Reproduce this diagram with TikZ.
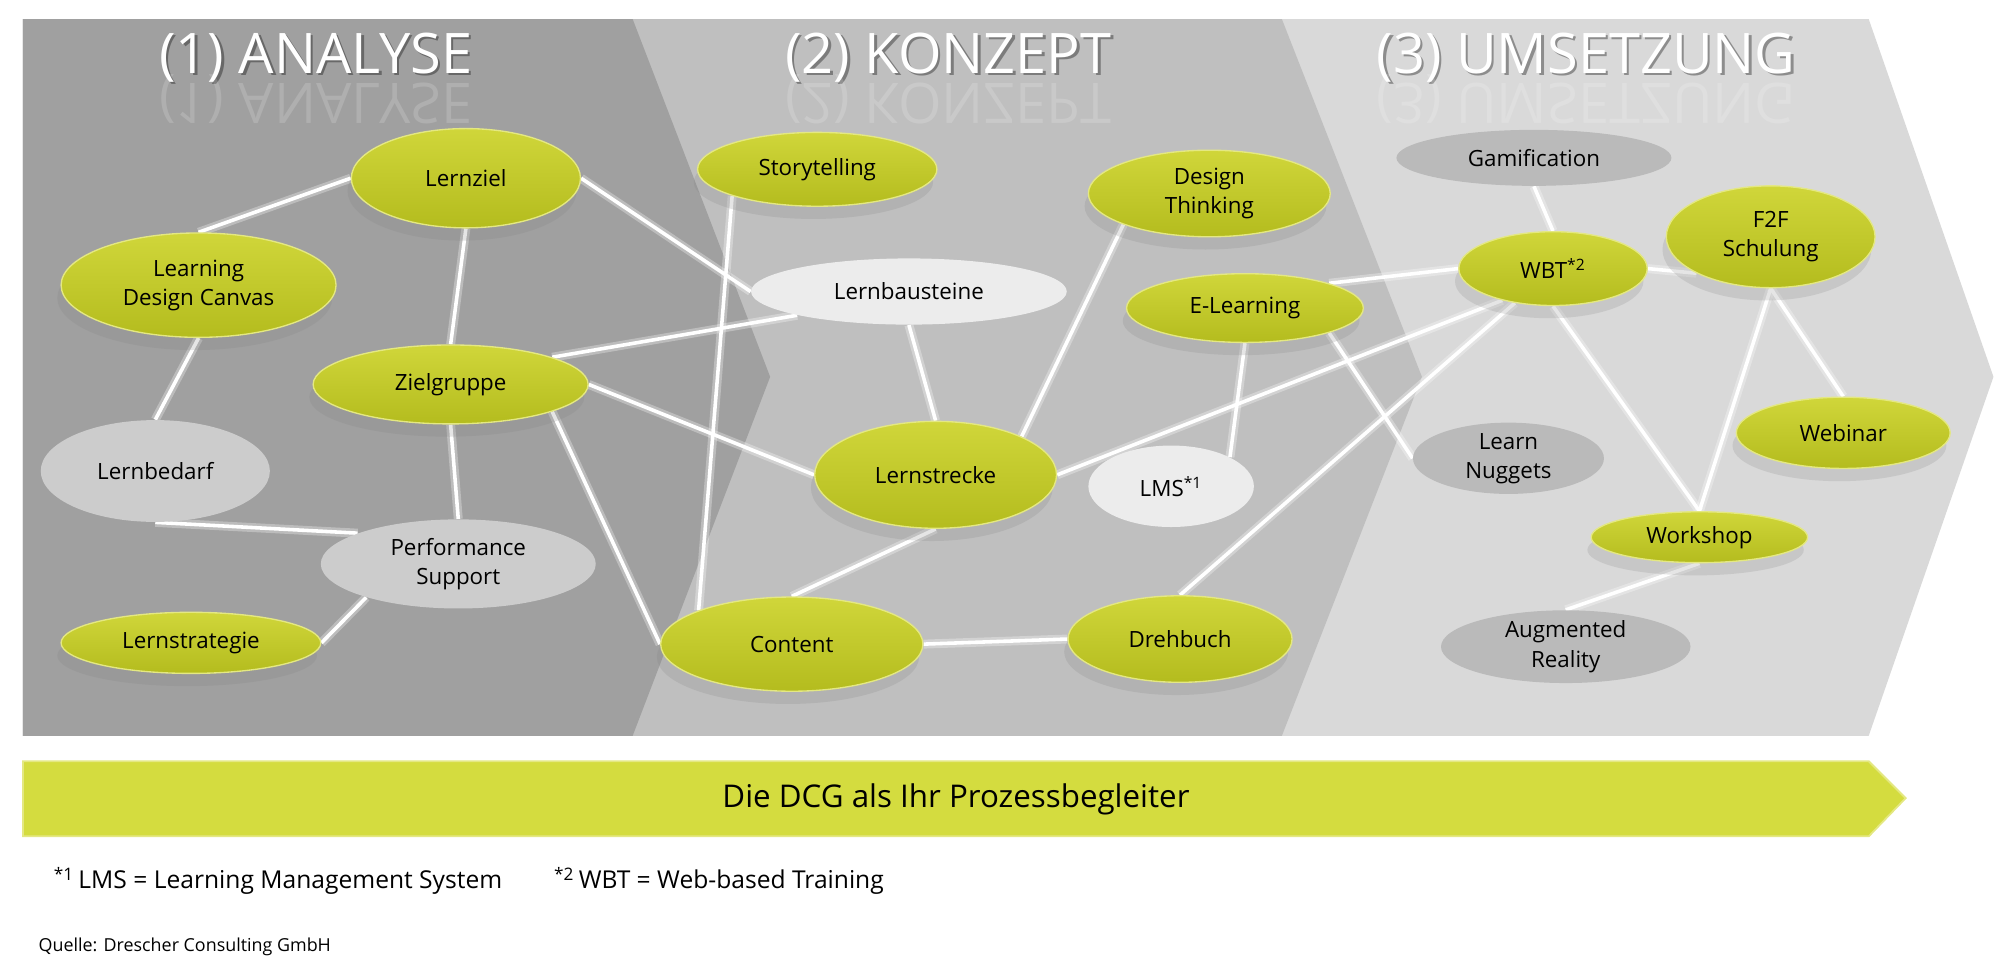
\documentclass[tikz,border=0pt]{standalone}
\usepackage{fontspec}
\setmainfont{Open Sans}
\usetikzlibrary{shapes.geometric,shadows}

\pgfdeclarelayer{panels}
\pgfdeclarelayer{edges}
\pgfsetlayers{panels,edges,main}

\definecolor{panelone}{RGB}{160,160,160}
\definecolor{paneltwo}{RGB}{191,191,191}
\definecolor{panelthree}{RGB}{217,217,217}
\definecolor{dcgtop}{RGB}{208,214,58}
\definecolor{dcgbottom}{RGB}{180,188,30}
\definecolor{dcgrim}{RGB}{228,232,130}
\definecolor{dcgarrow}{RGB}{212,220,63}
\definecolor{graymid}{RGB}{204,204,204}
\definecolor{graylight}{RGB}{236,236,236}
\definecolor{graydark}{RGB}{186,186,186}

\newcommand\dcgnodefont{\fontsize{10}{13}\selectfont}
\newcommand\dcgheadfont{\fontsize{25}{30}\selectfont}

\begin{document}
\begin{tikzpicture}[
  x=0.02cm, y=-0.02cm,
  esize/.style 2 args={
    minimum width=#1*0.02cm,
    minimum height=#2*0.02cm
  },
  greennode/.style={
    ellipse,
    draw=dcgrim,
    line width=0.6pt,
    top color=dcgtop,
    bottom color=dcgbottom,
    drop shadow={shadow xshift=-0.06cm, shadow yshift=-0.2cm, opacity=0.2},
    inner sep=0pt,
    align=center,
    font=\dcgnodefont
  },
  graynode/.style={
    ellipse,
    fill=#1,
    inner sep=0pt,
    align=center,
    font=\dcgnodefont
  },
  link/.style={
    draw=white,
    line width=1.6pt,
    preaction={draw=white, opacity=0.3, line width=4pt}
  },
  heading/.style={
    text=white,
    font=\dcgheadfont,
    inner sep=0pt
  }]
  \useasboundingbox (0,0) rectangle (1568,761);

  % the three phases
  \begin{pgfonlayer}{panels}
  \fill[panelthree] (18,15) -- (1468,15) -- (1566,296) -- (1468,578) -- (18,578) -- cycle;
  \fill[paneltwo] (18,15) -- (1007,15) -- (1117,296) -- (1007,578) -- (18,578) -- cycle;
  \fill[panelone] (18,15) -- (497,15) -- (605,296) -- (497,578) -- (18,578) -- cycle;
  \end{pgfonlayer}

  % headings with shadow and reflection
  \foreach \n/\x/\t in {hone/248/(1) ANALYSE, htwo/745/(2) KONZEPT, hthree/1246/(3) UMSETZUNG} {
    \node[heading, text=black, text opacity=0.35] (\n shadow) at (\x+2,47) {\t};
    \node[heading, yscale=-1, text opacity=0.16] (\n mirror) at (\x,78) {\t};
    \node[heading] (\n) at (\x,45) {\t};
  }

  % (1) Analyse
  \node[greennode, esize={180}{78}] (lernziel) at (366,140) {Lernziel};
  \node[greennode, esize={216}{82}] (ldc) at (156,224) {Learning\\Design Canvas};
  \node[greennode, esize={216}{62}] (ziel) at (354,302) {Zielgruppe};
  \node[greennode, esize={204}{48}] (strategie) at (150,505) {Lernstrategie};
  \node[graynode=graymid, esize={180}{80}] (bedarf) at (122,370) {Lernbedarf};
  \node[graynode=graymid, esize={216}{70}] (perf) at (360,443) {Performance\\Support};

  % (2) Konzept
  \node[greennode, esize={188}{58}] (story) at (642,133) {Storytelling};
  \node[graynode=graylight, esize={248}{52}] (bausteine) at (714,229) {Lernbausteine};
  \node[greennode, esize={190}{68}] (design) at (950,152) {Design\\Thinking};
  \node[greennode, esize={186}{54}] (elearning) at (978,242) {E-Learning};
  \node[greennode, esize={190}{84}] (strecke) at (735,373) {Lernstrecke};
  \node[graynode=graylight, esize={130}{64}] (lms) at (920,382) {LMS\textsuperscript{*1}};
  \node[greennode, esize={206}{74}] (content) at (622,506) {Content};
  \node[greennode, esize={176}{68}] (drehbuch) at (927,502) {Drehbuch};

  % (3) Umsetzung
  \node[graynode=graydark, esize={216}{44}] (gamif) at (1205,124) {Gamification};
  \node[greennode, esize={148}{58}] (wbt) at (1220,211) {WBT\textsuperscript{*2}};
  \node[greennode, esize={164}{80}] (f2f) at (1391,186) {F2F\\Schulung};
  \node[greennode, esize={168}{56}] (webinar) at (1448,340) {Webinar};
  \node[graynode=graydark, esize={150}{56}] (nuggets) at (1185,360) {Learn\\Nuggets};
  \node[greennode, esize={170}{40}] (workshop) at (1335,422) {Workshop};
  \node[graynode=graydark, esize={196}{54}] (ar) at (1230,508) {Augmented\\Reality};

  % connections
  \begin{pgfonlayer}{edges}
  \foreach \a/\b in {lernziel.west/ldc.north, lernziel.south/ziel.north,
    lernziel.east/bausteine.west, ldc.south/bedarf.north, bedarf.south/perf.163,
    ziel.south/perf.north, ziel.15/bausteine.192, ziel.east/strecke.west,
    ziel.345/content.west, perf.200/strategie.east,
    story.south west/content.north west, bausteine.south/strecke.north,
    design.south west/strecke.north east, strecke.south/content.north,
    strecke.east/wbt.212, elearning.south/lms.north east,
    elearning.north east/wbt.west, elearning.south east/nuggets.west,
    content.east/drehbuch.west, drehbuch.north/wbt.222,
    gamif.south/wbt.north, wbt.east/f2f.south west, wbt.south/workshop.north,
    f2f.south/webinar.north, f2f.south/workshop.north, workshop.south/ar.north}
    \draw[link] (\a) -- (\b);
  \end{pgfonlayer}

  % process arrow
  \fill[dcgarrow, draw=dcgrim, line width=0.8pt] (18,598) -- (1468,598) -- (1497,627) -- (1468,657) -- (18,657) -- cycle;
  \node[font=\fontsize{14}{17}\selectfont] (prozess) at (751,628) {Die DCG als Ihr Prozessbegleiter};

  % footnotes
  \node[anchor=west, font=\fontsize{11}{13}\selectfont, inner sep=0pt] (fnlms) at (42,692) {\textsuperscript{*1}\,LMS = Learning Management System};
  \node[anchor=west, font=\fontsize{11}{13}\selectfont, inner sep=0pt] (fnwbt) at (435,692) {\textsuperscript{*2}\,WBT = Web-based Training};
  \node[anchor=west, font=\fontsize{8}{10}\selectfont, inner sep=0pt] (quelle) at (30,744) {Quelle: Drescher Consulting GmbH};
\end{tikzpicture}
\end{document}
